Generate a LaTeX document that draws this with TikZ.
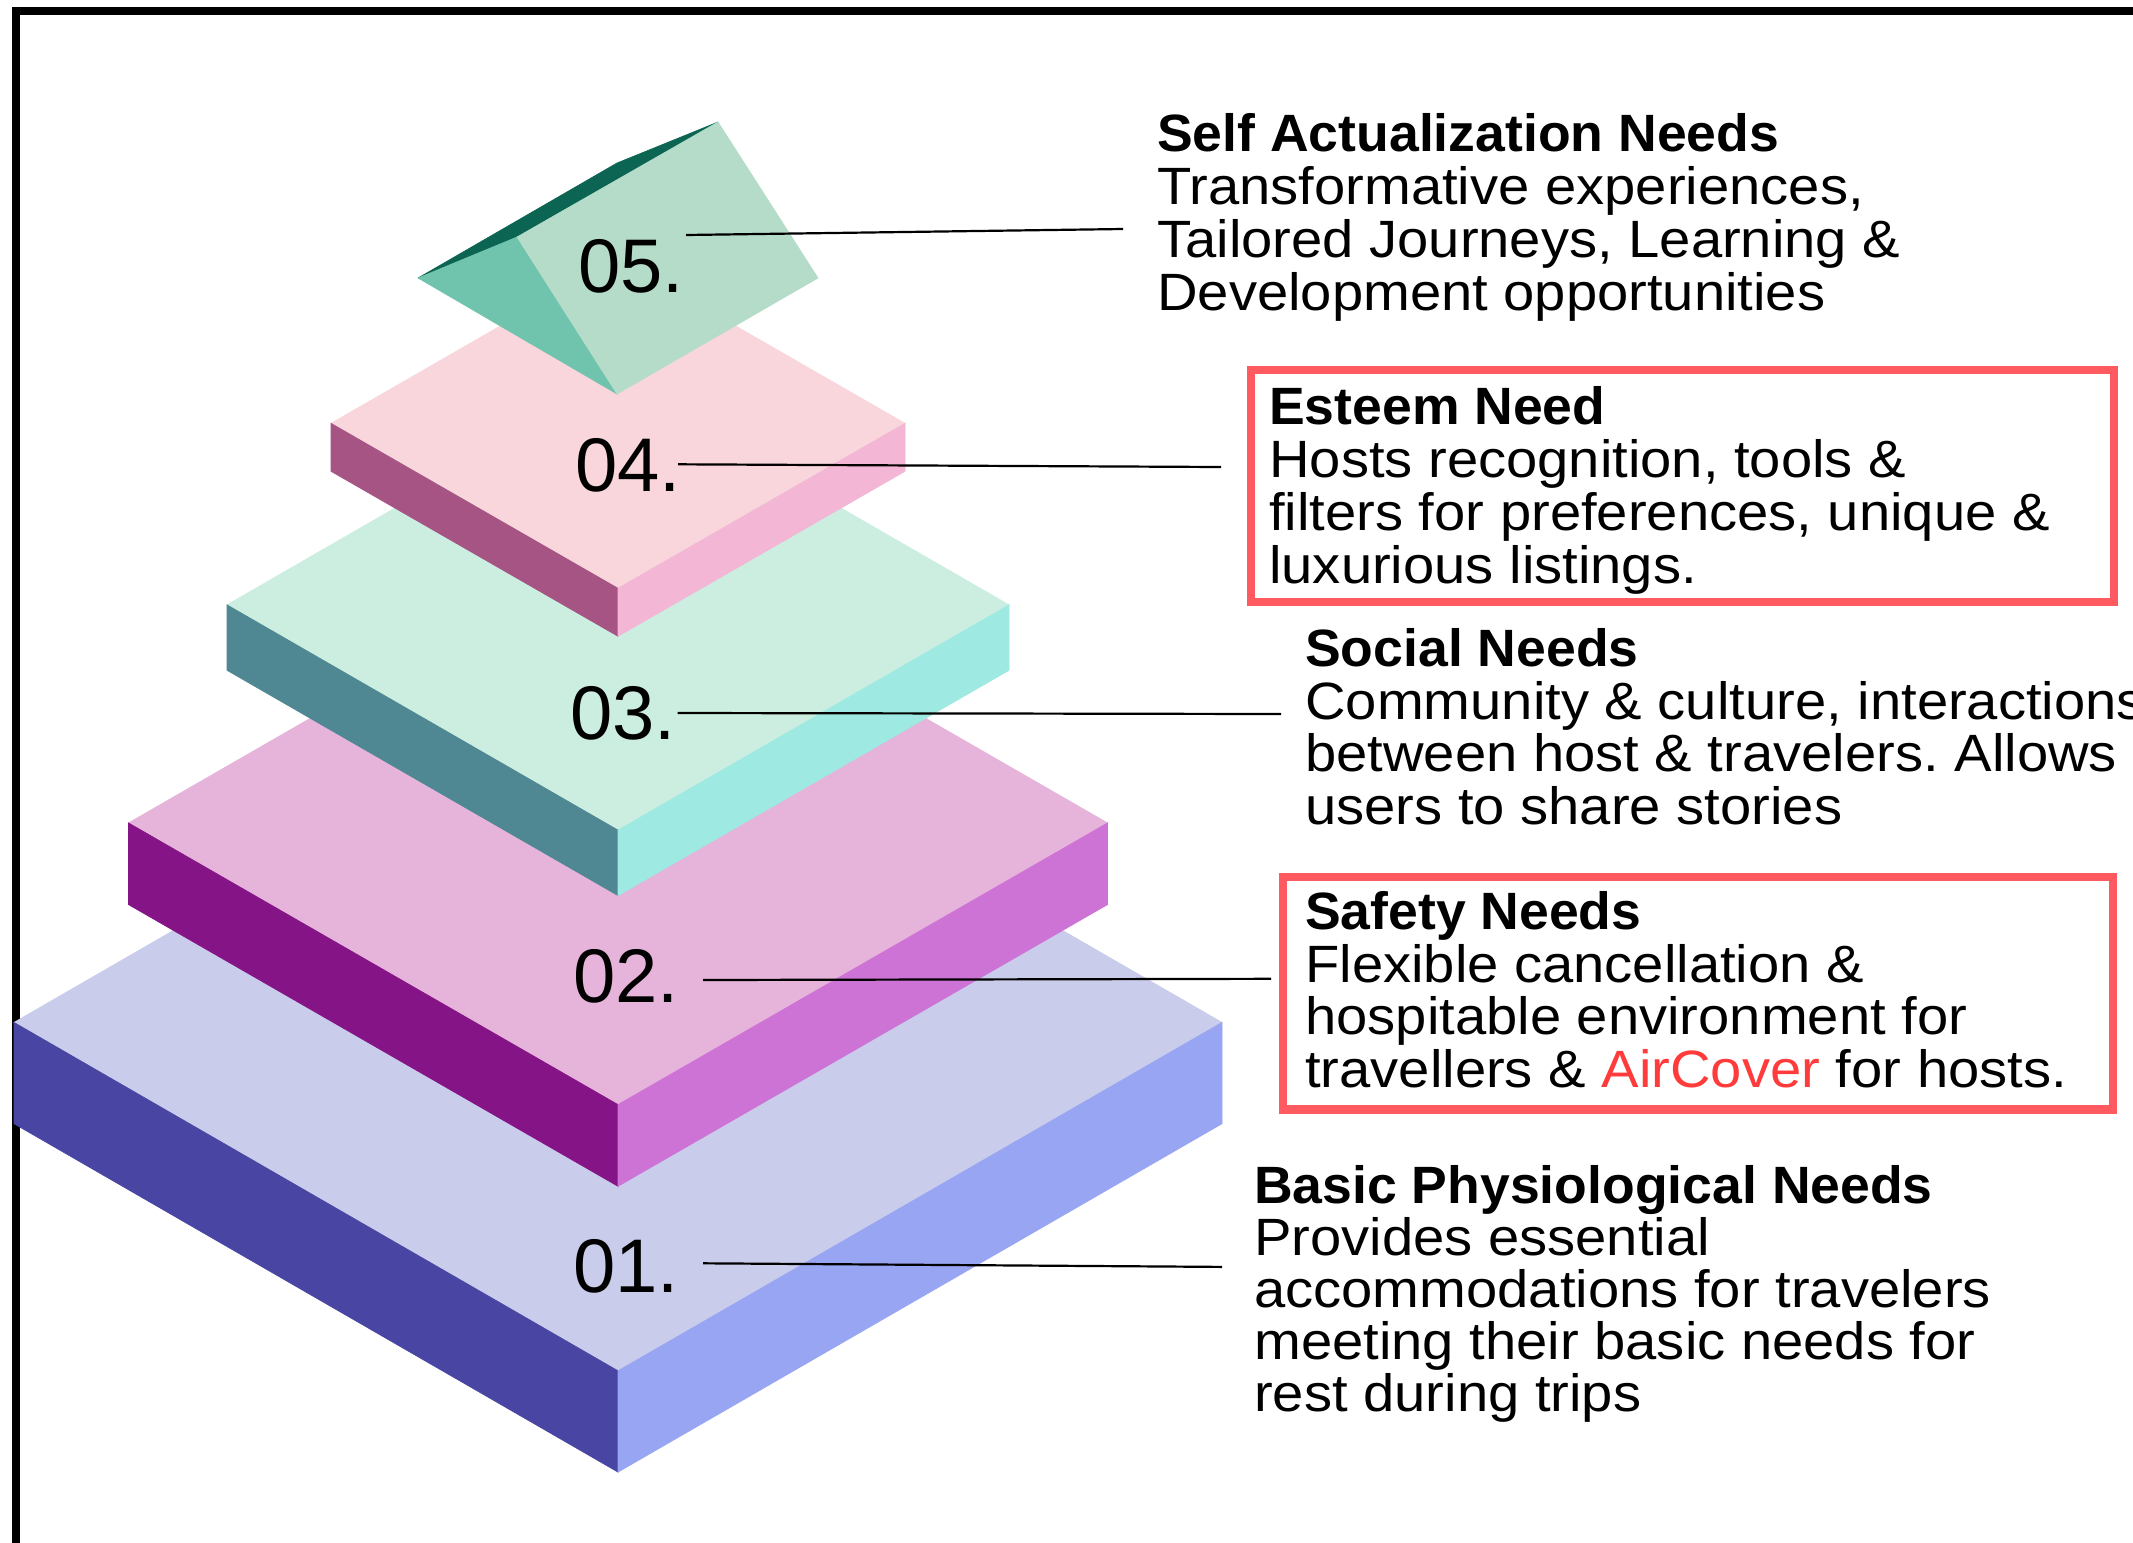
\documentclass[tikz,border=0pt]{standalone}
\usepackage{fontspec}
\setmainfont{Liberation Sans}[FakeStretch=1.07]
\newfontfamily\boldf{Liberation Sans}[FakeStretch=1.02]
\newfontfamily\numf{Liberation Sans}
\frenchspacing
\definecolor{redbox}{HTML}{FF5A5F}
\definecolor{redtxt}{HTML}{FF3B3B}
\definecolor{aTop}{HTML}{C9CCEA}\definecolor{aLeft}{HTML}{4945A3}\definecolor{aRight}{HTML}{98A5F2}
\definecolor{bTop}{HTML}{E6B3DA}\definecolor{bLeft}{HTML}{851487}\definecolor{bRight}{HTML}{CE73D6}
\definecolor{cTop}{HTML}{CCEEE1}\definecolor{cLeft}{HTML}{4F8893}\definecolor{cRight}{HTML}{9EEAE2}
\definecolor{dTop}{HTML}{F8D6DC}\definecolor{dLeft}{HTML}{A55484}\definecolor{dRight}{HTML}{F3B6D5}
\definecolor{eDark}{HTML}{0C6553}\definecolor{eMid}{HTML}{70C4AD}\definecolor{eLight}{HTML}{B5DCC8}
% slab: cx, yc, half-width, half-height, thickness, top, left, right
\newcommand\drawslab[8]{%
  \filldraw[fill=#6,draw=#6,line width=0.6pt] (#1-#3,#2) -- (#1,#2-#4) -- (#1+#3,#2) -- (#1,#2+#4) -- cycle;
  \filldraw[fill=#7,draw=#7,line width=0.6pt] (#1-#3,#2) -- (#1,#2+#4) -- (#1,#2+#4+#5) -- (#1-#3,#2+#5) -- cycle;
  \filldraw[fill=#8,draw=#8,line width=0.6pt] (#1,#2+#4) -- (#1+#3,#2) -- (#1+#3,#2+#5) -- (#1,#2+#4+#5) -- cycle;
}
\begin{document}
\begin{tikzpicture}[x=1pt,y=-1pt,
  txt/.style={anchor=base west, inner sep=0pt, font=\fontsize{52.5}{52.7}\selectfont},
  num/.style={anchor=base west, inner sep=0pt, font=\numf\fontsize{76}{80}\selectfont},
  conn/.style={draw=black, line width=2.2pt},
  hibox/.style={draw=redbox, line width=8.5pt, inner sep=0pt}]
\useasboundingbox (0,0) rectangle (2133,1542);
\clip (0,0) rectangle (2133,1542);
\fill[white] (0,0) rectangle (2133,1542);
% frame
\draw[line width=8pt] (16,1560) -- (16,11) -- (2150,11);
% pyramid slabs
\drawslab{618}{1022.4}{604}{348.4}{101.3}{aTop}{aLeft}{aRight}
\drawslab{618}{822.9}{489.5}{281.7}{81.7}{bTop}{bLeft}{bRight}
\drawslab{618}{604.8}{391}{225.3}{65.5}{cTop}{cLeft}{cRight}
\drawslab{618}{423.3}{287}{165}{48}{dTop}{dLeft}{dRight}
% top prism
\filldraw[fill=eDark,draw=eDark,line width=0.6pt] (418,278) -- (617,163) -- (718,122) -- (517,237) -- cycle;
\filldraw[fill=eMid,draw=eMid,line width=0.6pt] (418,278) -- (517,237) -- (617,394) -- cycle;
\filldraw[fill=eLight,draw=eLight,line width=0.6pt] (517,237) -- (718,122) -- (818,278) -- (617,394) -- cycle;
% numbers
\node[num] (n5) at (578,292) {05.};
\node[num] (n4) at (575,491) {04.};
\node[num] (n3) at (570,739) {03.};
\node[num] (n2) at (573,1002) {02.};
\node[num] (n1) at (573,1292) {01.};
% highlight boxes
\node[hibox, minimum width=863pt, minimum height=232pt] (b4) at (1682.5,486) {};
\node[hibox, minimum width=830pt, minimum height=232.5pt] (b2) at (1698,993.25) {};
% texts
\node[txt] (t5) at (1157,151.4) {\vtop{\baselineskip=52.9pt
  \hbox{\boldf\bfseries Self Actualization Needs}
  \hbox{Transformative experiences,}
  \hbox{Tailored Journeys, Learning \&}
  \hbox{Development opportunities}}};
\node[txt] (t4) at (1269,424.6) {\vtop{\baselineskip=53pt
  \hbox{\boldf\bfseries Esteem Need}
  \hbox{Hosts recognition, tools \&}
  \hbox{filters for preferences, unique \&}
  \hbox{luxurious listings.}}};
\node[txt] (t3) at (1305,666.6) {\vtop{\baselineskip=52.6pt
  \hbox{\boldf\bfseries Social Needs}
  \hbox{Community \& culture, interactions}
  \hbox{between host \& travelers. Allows}
  \hbox{users to share stories}}};
\node[txt] (t2) at (1305,929.7) {\vtop{\baselineskip=52.6pt
  \hbox{\boldf\bfseries Safety Needs}
  \hbox{Flexible cancellation \&}
  \hbox{hospitable environment for}
  \hbox{travellers \& \textcolor{redtxt}{AirCover} for hosts.}}};
\node[txt] (t1) at (1254,1203.3) {\vtop{\baselineskip=52.1pt
  \hbox{\boldf\bfseries Basic Physiological Needs}
  \hbox{Provides essential}
  \hbox{accommodations for travelers}
  \hbox{meeting their basic needs for}
  \hbox{rest during trips}}};
% connectors
\coordinate (c5a) at (686,235);   \coordinate (c5b) at (1123,229);
\coordinate (c4a) at (678,464.3); \coordinate (c4b) at (1221,467);
\coordinate (c3a) at (677.6,713); \coordinate (c3b) at (1281,714);
\coordinate (c2a) at (703,980);   \coordinate (c2b) at (1271,978.8);
\coordinate (c1a) at (703,1263.3);\coordinate (c1b) at (1222,1266.9);
\draw[conn] (c5a) -- (c5b);
\draw[conn] (c4a) -- (c4b);
\draw[conn] (c3a) -- (c3b);
\draw[conn] (c2a) -- (c2b);
\draw[conn] (c1a) -- (c1b);
\end{tikzpicture}
\end{document}
